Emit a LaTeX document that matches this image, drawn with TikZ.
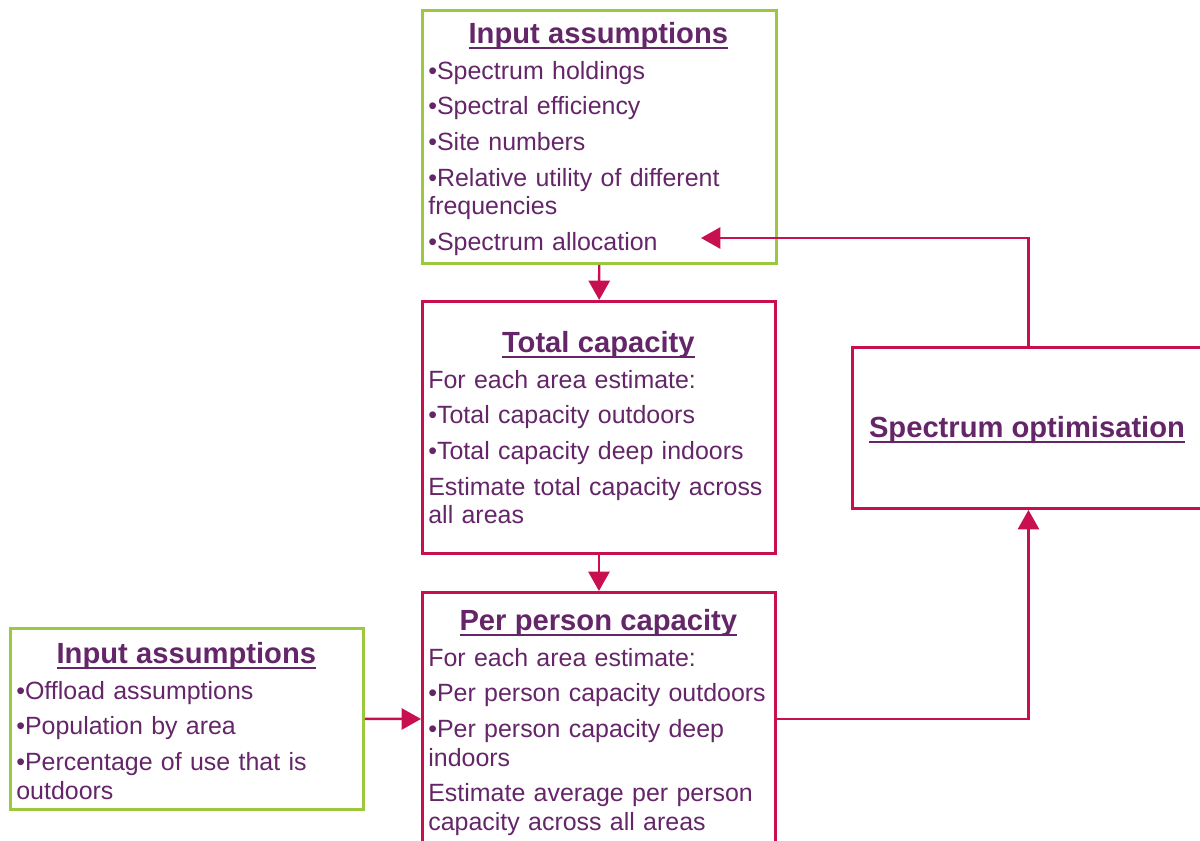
\documentclass[tikz,border=0pt]{standalone}
\usepackage{fontspec}
\setmainfont{Liberation Sans}
\usetikzlibrary{arrows.meta}

\definecolor{boxgreen}{RGB}{155,200,60}
\definecolor{linkred}{RGB}{200,16,80}
\definecolor{textpurple}{RGB}{101,38,105}

\newsavebox{\ulsave}
\newcommand{\ulword}[1]{\sbox{\ulsave}{#1}\rlap{\rule[-3.3pt]{\wd\ulsave}{1.1pt}}\usebox{\ulsave}}
\newcommand{\boxtitle}[1]{{\centering\fontsize{16.6pt}{16.4pt}\selectfont\bfseries\hspace*{-0.1cm}\ulword{#1}\par}}

\begin{document}
\begin{tikzpicture}[x=0.02cm, y=-0.02cm]
    \useasboundingbox (0,0) rectangle (1200,841);
    \clip (0,0) rectangle (1200,841);

    \begin{scope} [every node/.style={rectangle,line width=1.7pt,fill=white,anchor=north west,inner sep=0pt}]
        \node[draw=boxgreen, minimum width=7.08cm, minimum height=5.06cm] (inA) at (421,9) {};
        \node[draw=linkred, minimum width=7.06cm, minimum height=5.04cm] (tot) at (421,300) {};
        \node[draw=linkred, minimum width=7.06cm, minimum height=5.06cm] (pp) at (421,591) {};
        \node[draw=boxgreen, minimum width=7.06cm, minimum height=3.62cm] (inB) at (9,627) {};
        \node[draw=linkred, minimum width=7.04cm, minimum height=3.22cm] (spec) at (851,346) {};
    \end{scope}

    \begin{scope} [every node/.style={anchor=north west,inner sep=0pt,text width=6.9cm,align=left,text=textpurple,
            font={\fontsize{14.2pt}{16.4pt}\selectfont\setlength\parskip{3.9pt}}}]
        \node (inAtxt) at (428,22) {\boxtitle{Input assumptions}
            •Spectrum holdings\par
            •Spectral efficiency\par
            •Site numbers\par
            •Relative utility of different\\frequencies\par
            •Spectrum allocation};
        \node (tottxt) at (428,331) {\boxtitle{Total capacity}
            For each area estimate:\par
            •Total capacity outdoors\par
            •Total capacity deep indoors\par
            Estimate total capacity across\\all areas};
        \node (pptxt) at (428,609) {\boxtitle{Per person capacity}
            For each area estimate:\par
            •Per person capacity outdoors\par
            •Per person capacity deep\\indoors\par
            Estimate average per person\\capacity across all areas};
        \node (inBtxt) at (16,642) {\boxtitle{Input assumptions}
            •Offload assumptions\par
            •Population by area\par
            •Percentage of use that is\\outdoors};
    \end{scope}
    \node[text=textpurple, font=\fontsize{16.6pt}{18pt}\selectfont\bfseries] (spectxt) at (1027,430) {\ulword{Spectrum optimisation}};

    \coordinate (alloc) at (701,238);

    \begin{scope}[>={Triangle[length=11pt,width=12pt]},
            every edge/.style={draw=linkred,line width=1.4pt}]
        \path [->] (inA) edge (tot);
        \path [->] (tot) edge (pp);
        \path [->] (inB) edge (pp);
        \path [->] (pp) edge[to path={-| (\tikztotarget)}] (spec);
        \path [->] (spec) edge[to path={|- (\tikztotarget)}] (alloc);
    \end{scope}
\end{tikzpicture}
\end{document}
